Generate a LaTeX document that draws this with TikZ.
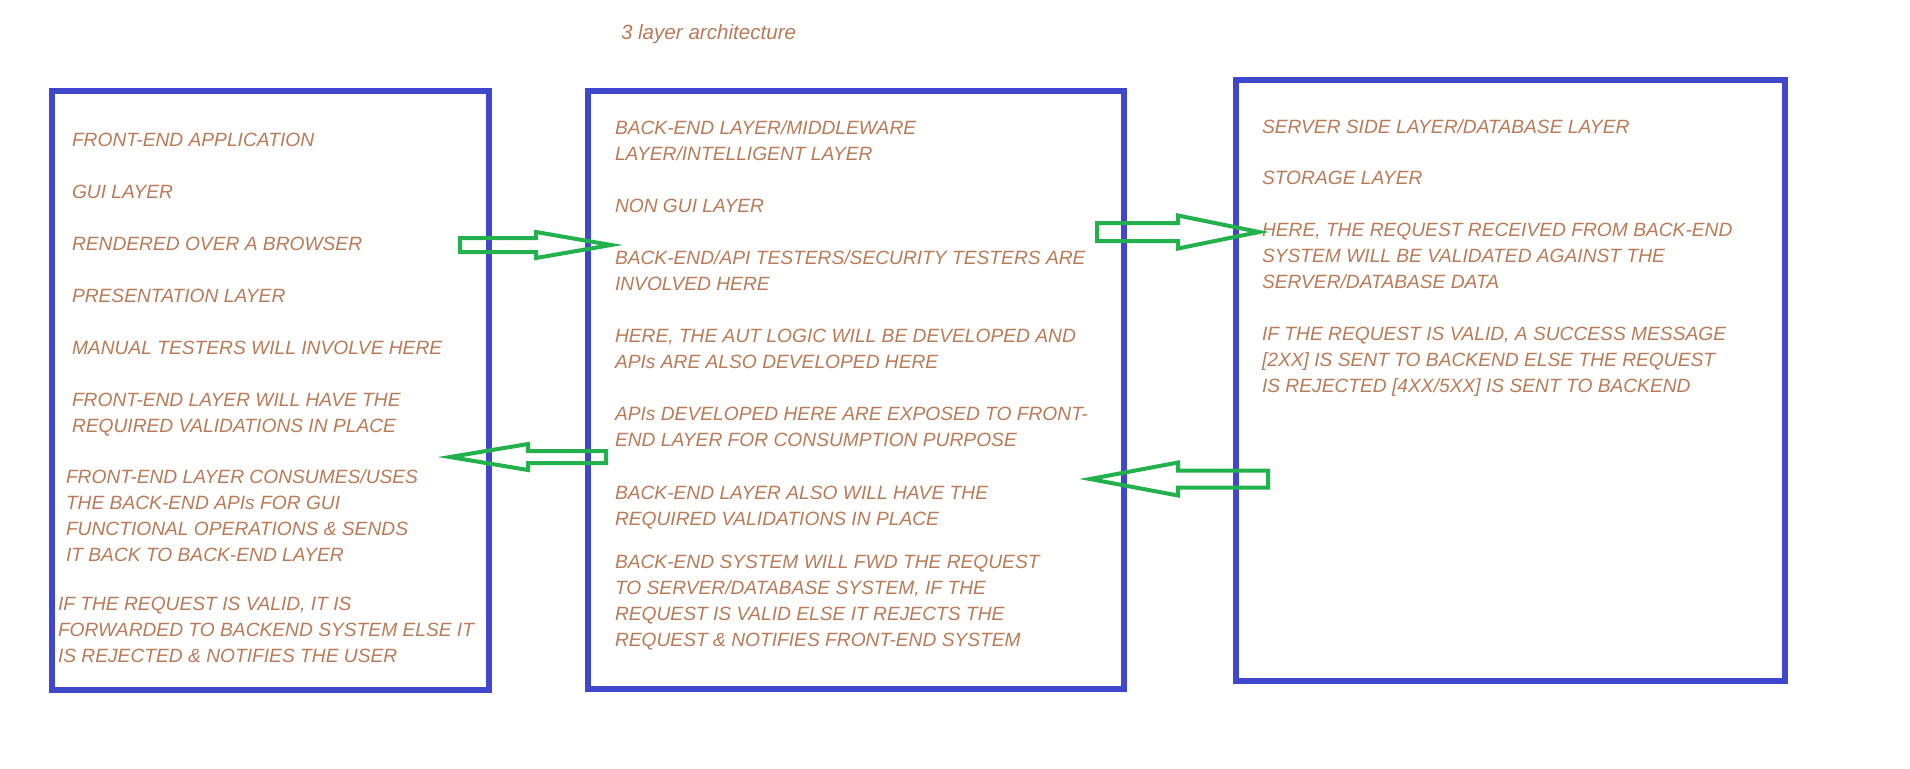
\documentclass[tikz,border=0pt]{standalone}
\usepackage{fontspec}
\setmainfont{Liberation Sans}
\usetikzlibrary{calc}
\definecolor{paintblue}{RGB}{63,72,204}
\definecolor{paintgreen}{RGB}{34,177,76}
\definecolor{paintbrown}{RGB}{185,122,87}

\begin{document}
\begin{tikzpicture}
  [x=0.5pt,y=-0.5pt,every node/.style={inner sep=0pt,outer sep=0pt},
   txt/.style={anchor=base west,align=left,text=paintbrown,
     font=\fontsize{9.6}{12.9}\selectfont\itshape},
   layer/.style={draw=paintblue,line width=2.6pt,anchor=north west},
   fat/.style args={#1/#2/#3}{draw=paintgreen,line width=2pt,
     to path={let \p1=(\tikztostart),\p2=(\tikztotarget),\n1={sign(\x2-\x1)} in
       ({\x1},{\y1+#1*0.5pt}) -- ({\x2-\n1*#3*0.5pt},{\y1+#1*0.5pt})
       -- ({\x2-\n1*#3*0.5pt},{\y1+#2*0.5pt}) -- (\x2,\y1)
       -- ({\x2-\n1*#3*0.5pt},{\y1-#2*0.5pt}) -- ({\x2-\n1*#3*0.5pt},{\y1-#1*0.5pt})
       -- ({\x1},{\y1-#1*0.5pt}) -- cycle}}]
  \useasboundingbox (0,0) rectangle (1910,768);

  \node[txt,font=\fontsize{10.3}{12}\selectfont\itshape] (head) at (621,39) {3 layer architecture};

  % the three layers
  \node[layer,minimum width=218.5pt,minimum height=299.5pt] (front) at (52,91) {};
  \node[layer,minimum width=268pt,minimum height=299pt] (back) at (588,91) {};
  \node[layer,minimum width=274.5pt,minimum height=300.5pt] (server) at (1236,80) {};

  % front-end (y = baseline of the last line)
  \node[txt] (f1) at (72,146) {FRONT-END APPLICATION};
  \node[txt] (f2) at (72,198) {GUI LAYER};
  \node[txt] (f3) at (72,250) {RENDERED OVER A BROWSER};
  \node[txt] (f4) at (72,302) {PRESENTATION LAYER};
  \node[txt] (f5) at (72,354) {MANUAL TESTERS WILL INVOLVE HERE};
  \node[txt] (f6) at (72,432) {FRONT-END LAYER WILL HAVE THE\\REQUIRED VALIDATIONS IN PLACE};
  \node[txt] (f7) at (66,561) {FRONT-END LAYER CONSUMES/USES\\THE BACK-END APIs FOR GUI\\FUNCTIONAL OPERATIONS \& SENDS\\IT BACK TO BACK-END LAYER};
  \node[txt] (f8) at (58,662) {IF THE REQUEST IS VALID, IT IS\\FORWARDED TO BACKEND SYSTEM ELSE IT\\IS REJECTED \& NOTIFIES THE USER};

  % back-end
  \node[txt] (b1) at (615,160) {BACK-END LAYER/MIDDLEWARE\\LAYER/INTELLIGENT LAYER};
  \node[txt] (b2) at (615,212) {NON GUI LAYER};
  \node[txt] (b3) at (615,290) {BACK-END/API TESTERS/SECURITY TESTERS ARE\\INVOLVED HERE};
  \node[txt] (b4) at (615,368) {HERE, THE AUT LOGIC WILL BE DEVELOPED AND\\APIs ARE ALSO DEVELOPED HERE};
  \node[txt] (b5) at (615,446) {APIs DEVELOPED HERE ARE EXPOSED TO FRONT-\\END LAYER FOR CONSUMPTION PURPOSE};
  \node[txt] (b6) at (615,525) {BACK-END LAYER ALSO WILL HAVE THE\\REQUIRED VALIDATIONS IN PLACE};
  \node[txt] (b7) at (615,646) {BACK-END SYSTEM WILL FWD THE REQUEST\\TO SERVER/DATABASE SYSTEM, IF THE\\REQUEST IS VALID ELSE IT REJECTS THE\\REQUEST \& NOTIFIES FRONT-END SYSTEM};

  % server side
  \node[txt] (s1) at (1262,133) {SERVER SIDE LAYER/DATABASE LAYER};
  \node[txt] (s2) at (1262,184) {STORAGE LAYER};
  \node[txt] (s3) at (1262,288) {HERE, THE REQUEST RECEIVED FROM BACK-END\\SYSTEM WILL BE VALIDATED AGAINST THE\\SERVER/DATABASE DATA};
  \node[txt] (s4) at (1262,392) {IF THE REQUEST IS VALID, A SUCCESS MESSAGE\\{[2XX]} IS SENT TO BACKEND ELSE THE REQUEST\\IS REJECTED [4XX/5XX] IS SENT TO BACKEND};

  % arrow ends
  \coordinate (a1) at (460,245);
  \coordinate (a2) at (611,245);
  \coordinate (a3) at (606,457);
  \coordinate (a4) at (450,457);
  \coordinate (a5) at (1097,232);
  \coordinate (a6) at (1259,232);
  \coordinate (a7) at (1268,479);
  \coordinate (a8) at (1090,479);

  \foreach \from/\to/\sw/\hw/\hl in {a1/a2/7/13/75,a3/a4/6/13/78,a5/a6/9/16.5/81,a7/a8/8.5/16.5/88}
    \draw[fat=\sw/\hw/\hl] (\from) to (\to);
\end{tikzpicture}
\end{document}
